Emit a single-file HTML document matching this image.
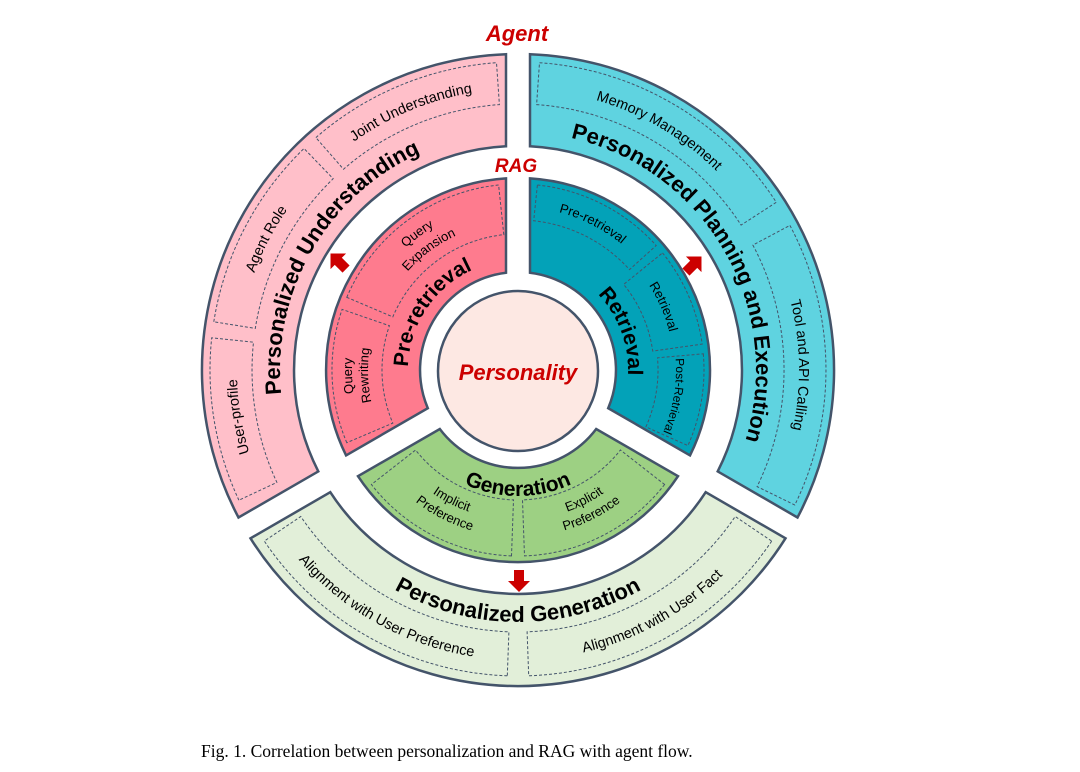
<!DOCTYPE html>
<html><head><meta charset="utf-8"><style>
html,body{margin:0;padding:0;background:#fff;}
svg{display:block;}
text{font-family:"Liberation Sans",Arial,sans-serif;fill:#000;}
.m{font-weight:bold;font-size:22px;}
.s{font-size:14.5px;}
.si{font-size:13px;}
.d{fill:none;stroke:#44546a;stroke-width:1;stroke-dasharray:3,2;}
.seg{stroke:#44546a;stroke-width:2.5;}
</style></head><body>
<svg width="1080" height="772" viewBox="0 0 1080 772" xmlns="http://www.w3.org/2000/svg">
<defs>
<path id="tPU" d="M311.9,489 A238,238 0 0 1 518,132"/>
<path id="tPP" d="M518,132 A238,238 0 0 1 724.1,489"/>
<path id="tPG" d="M299.8,496 A252,252 0 0 0 736.2,496"/>
<path id="tUP" d="M263.3,488.8 A281,281 0 0 1 238.5,340.6"/>
<path id="tAR" d="M240.5,326 A281,281 0 0 1 322.8,167.9"/>
<path id="tJU" d="M333.6,157.9 A281,281 0 0 1 498.4,89.7"/>
<path id="tMM" d="M537.6,89.7 A281,281 0 0 1 753.7,217"/>
<path id="tTA" d="M766.1,238.1 A281,281 0 0 1 770.6,493.2"/>
<path id="tAP" d="M277.6,532.2 A290,290 0 0 0 507.9,659.8"/>
<path id="tAF" d="M528.1,659.8 A290,290 0 0 0 758.4,532.2"/>
<path id="tPR" d="M422.7,425 A110,110 0 0 1 518,260"/>
<path id="tRE" d="M518,260 A110,110 0 0 1 613.3,425"/>
<path id="tGE" d="M408.9,433 A126,126 0 0 0 627.1,433"/>
<path id="tQ1" d="M365.2,434.9 A166,166 0 0 1 361,316"/>
<path id="tQ2" d="M379.9,428.6 A150,150 0 0 1 376.2,321.2"/>
<path id="tE1" d="M365.2,305.1 A166,166 0 0 1 500.6,204.9"/>
<path id="tE2" d="M381.8,312.2 A148,148 0 0 1 502.5,222.8"/>
<path id="tBR" d="M535,207.9 A163,163 0 0 1 639.1,260.9"/>
<path id="tBT" d="M639.2,271.8 A156,156 0 0 1 672.5,348.3"/>
<path id="tBP" d="M675.4,356.2 A158,158 0 0 1 662.3,434.3"/>
<path id="tI1" d="M399.8,462.4 A150,150 0 0 0 512.8,519.9"/>
<path id="tI2" d="M386.4,472.8 A167,167 0 0 0 512.2,536.9"/>
<path id="tX1" d="M523.2,519.9 A150,150 0 0 0 636.2,462.4"/>
<path id="tX2" d="M523.8,536.9 A167,167 0 0 0 649.6,472.8"/>
</defs>

<!-- outer ring -->
<path class="seg" fill="#ffbfc9" d="M238.5,517.5 A316,316 0 0 1 506,54.2 L506,146.3 A224,224 0 0 0 318.3,471.4 Z"/>
<path class="seg" fill="#5fd3e0" d="M530,54.2 A316,316 0 0 1 797.5,517.5 L717.7,471.4 A224,224 0 0 0 530,146.3 Z"/>
<path class="seg" fill="#e2efd9" d="M785.5,538.3 A316,316 0 0 1 250.5,538.3 L330.3,492.2 A224,224 0 0 0 705.7,492.2 Z"/>
<!-- inner ring -->
<path class="seg" fill="#fe7b8e" d="M346.1,455.4 A192,192 0 0 1 506,178.4 L506,272.7 A98,98 0 0 0 427.8,408.2 Z"/>
<path class="seg" fill="#03a2b8" d="M530,178.4 A192,192 0 0 1 690,455.4 L608.2,408.2 A98,98 0 0 0 530,272.7 Z"/>
<path class="seg" fill="#9dd083" d="M678,476.2 A192,192 0 0 1 358,476.2 L439.8,429 A98,98 0 0 0 596.2,429 Z"/>
<circle cx="518" cy="371" r="80" fill="#fde8e3" stroke="#44546a" stroke-width="2.5"/>

<!-- dashed boxes -->
<path class="d" d="M238.9,500.2 A308,308 0 0 1 211.7,337.8 L253.5,342.2 A266,266 0 0 0 276.9,482.4 Z"/>
<path class="d" d="M213.8,321.8 A308,308 0 0 1 304,148.5 L333.2,178.7 A266,266 0 0 0 255.3,328.4 Z"/>
<path class="d" d="M315.9,137.6 A308,308 0 0 1 496.5,62.7 L499.4,104.6 A266,266 0 0 0 343.5,169.2 Z"/>
<path class="d" d="M539.5,62.7 A308,308 0 0 1 776.3,202.3 L741.1,225.1 A266,266 0 0 0 536.6,104.6 Z"/>
<path class="d" d="M789.9,225.4 A308,308 0 0 1 794.8,505 L757.1,486.6 A266,266 0 0 0 752.9,245.1 Z"/>
<path class="d" d="M771.7,541.1 A306,306 0 0 1 528.7,675.8 L527.1,631.8 A262,262 0 0 0 735.2,516.5 Z"/>
<path class="d" d="M507.3,675.8 A306,306 0 0 1 264.3,541.1 L300.8,516.5 A262,262 0 0 0 508.9,631.8 Z"/>
<path class="d" d="M346.8,442.7 A186,186 0 0 1 342.1,309.4 L389.4,325.7 A136,136 0 0 0 392.8,423.1 Z"/>
<path class="d" d="M346.8,297.3 A186,186 0 0 1 498.6,185 L503.8,234.7 A136,136 0 0 0 392.8,316.9 Z"/>
<path class="d" d="M537.4,185 A186,186 0 0 1 656.2,245.5 L629.5,269.6 A150,150 0 0 0 533.7,220.8 Z"/>
<path class="d" d="M662.5,252.9 A186,186 0 0 1 702.2,344.1 L652.7,351.1 A136,136 0 0 0 623.7,284.4 Z"/>
<path class="d" d="M703.3,353.8 A186,186 0 0 1 687.9,445.6 L645.9,426.9 A140,140 0 0 0 657.5,357.8 Z"/>
<path class="d" d="M664.6,484.5 A186,186 0 0 1 524.5,555.9 L522.5,499.9 A130,130 0 0 0 620.4,450 Z"/>
<path class="d" d="M511.5,555.9 A186,186 0 0 1 371.4,484.5 L415.6,450 A130,130 0 0 0 513.5,499.9 Z"/>

<!-- main texts -->
<text class="m"><textPath href="#tPU" startOffset="50%" text-anchor="middle">Personalized Understanding</textPath></text>
<text class="m"><textPath href="#tPP" startOffset="50%" text-anchor="middle">Personalized Planning and Execution</textPath></text>
<text class="m"><textPath href="#tPG" startOffset="50%" text-anchor="middle">Personalized Generation</textPath></text>
<text class="m" style="font-size:21px"><textPath href="#tPR" startOffset="53%" text-anchor="middle">Pre-retrieval</textPath></text>
<text class="m" style="font-size:21px"><textPath href="#tRE" startOffset="58%" text-anchor="middle">Retrieval</textPath></text>
<text class="m" style="font-size:21px"><textPath href="#tGE" startOffset="50%" text-anchor="middle">Generation</textPath></text>

<!-- sub texts -->
<text class="s"><textPath href="#tUP" startOffset="50%" text-anchor="middle">User-profile</textPath></text>
<text class="s"><textPath href="#tAR" startOffset="50%" text-anchor="middle">Agent Role</textPath></text>
<text class="s"><textPath href="#tJU" startOffset="50%" text-anchor="middle">Joint Understanding</textPath></text>
<text class="s"><textPath href="#tMM" startOffset="50%" text-anchor="middle">Memory Management</textPath></text>
<text class="s"><textPath href="#tTA" startOffset="50%" text-anchor="middle">Tool and API Calling</textPath></text>
<text class="s"><textPath href="#tAP" startOffset="50%" text-anchor="middle">Alignment with User Preference</textPath></text>
<text class="s"><textPath href="#tAF" startOffset="50%" text-anchor="middle">Alignment with User Fact</textPath></text>
<text class="si"><textPath href="#tQ1" startOffset="50%" text-anchor="middle">Query</textPath></text>
<text class="si"><textPath href="#tQ2" startOffset="50%" text-anchor="middle">Rewriting</textPath></text>
<text class="si"><textPath href="#tE1" startOffset="50%" text-anchor="middle">Query</textPath></text>
<text class="si"><textPath href="#tE2" startOffset="50%" text-anchor="middle">Expansion</textPath></text>
<text class="si"><textPath href="#tBR" startOffset="50%" text-anchor="middle">Pre-retrieval</textPath></text>
<text class="si"><textPath href="#tBT" startOffset="50%" text-anchor="middle">Retrieval</textPath></text>
<text class="si" style="font-size:12px"><textPath href="#tBP" startOffset="50%" text-anchor="middle">Post-Retrieval</textPath></text>
<text class="si"><textPath href="#tI1" startOffset="50%" text-anchor="middle">Implicit</textPath></text>
<text class="si"><textPath href="#tI2" startOffset="50%" text-anchor="middle">Preference</textPath></text>
<text class="si"><textPath href="#tX1" startOffset="50%" text-anchor="middle">Explicit</textPath></text>
<text class="si"><textPath href="#tX2" startOffset="50%" text-anchor="middle">Preference</textPath></text>

<!-- labels -->
<text x="517" y="41" text-anchor="middle" style="font-weight:bold;font-style:italic;font-size:22px;fill:#cc0000">Agent</text>
<text x="516" y="172" text-anchor="middle" style="font-weight:bold;font-style:italic;font-size:19px;fill:#cc0000">RAG</text>
<text x="518" y="380" text-anchor="middle" style="font-weight:bold;font-style:italic;font-size:22px;fill:#cc0000">Personality</text>

<!-- arrows -->
<g fill="#cc0000">
<path transform="translate(339,262) rotate(225)" d="M-10,-5 L1,-5 L1,-11 L12,0 L1,11 L1,5 L-10,5 Z"/>
<path transform="translate(693,265) rotate(-45)" d="M-10,-5 L1,-5 L1,-11 L12,0 L1,11 L1,5 L-10,5 Z"/>
<path transform="translate(519,580) rotate(90)" d="M-10,-5 L1,-5 L1,-11 L12,0 L1,11 L1,5 L-10,5 Z"/>
</g>

<text x="201" y="757" style="font-family:'Liberation Serif',serif;font-size:17.5px">Fig. 1.  Correlation between personalization and RAG with agent flow.</text>
</svg>
</body></html>
